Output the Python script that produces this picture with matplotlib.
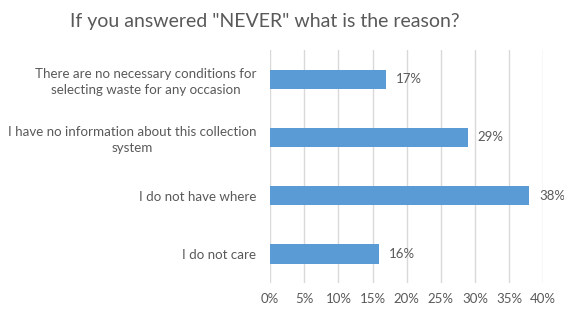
import matplotlib.pyplot as plt
from matplotlib.ticker import PercentFormatter

categories = [
    "There are no necessary conditions for\nselecting waste for any occasion",
    "I have no information about this collection\nsystem",
    "I do not have where",
    "I do not care",
]
values = [17, 29, 38, 16]
xticks = [0, 5, 10, 15, 20, 25, 30, 35, 40]

plt.rcParams["font.family"] = ["Lato", "DejaVu Sans"]
text_color = "#595959"

fig = plt.figure(figsize=(5.64, 3.09), dpi=100)
ax = fig.add_axes([0.479, 0.084, 0.484, 0.754])

ypos = list(range(len(categories)))
ax.barh(ypos, values, height=0.33, color="#5B9BD5", zorder=3)
for y, v in zip(ypos, values):
    ax.text(v + 1.4, y, f"{v}%", va="center", ha="left", fontsize=9.5, color=text_color)

ax.set_yticks(ypos)
ax.set_yticklabels(categories, fontsize=9.6, color=text_color,
                   multialignment="center", linespacing=1.35)
ax.set_ylim(len(categories) - 0.5, -0.5)
ax.set_xlim(0, 40)
ax.set_xticks(xticks)
ax.xaxis.set_major_formatter(PercentFormatter(decimals=0))
ax.tick_params(axis="x", length=0, labelsize=9.5, labelcolor=text_color, pad=7)
ax.tick_params(axis="y", length=0, pad=10)
ax.grid(axis="x", color="#D9D9D9", linewidth=1, zorder=0)
for s in ["top", "right", "bottom", "left"]:
    ax.spines[s].set_visible(False)

fig.text(0.47, 0.93, 'If you answered "NEVER" what is the reason?',
         ha="center", va="center", fontsize=14, color=text_color)

fig.savefig("out.png", dpi=100)
